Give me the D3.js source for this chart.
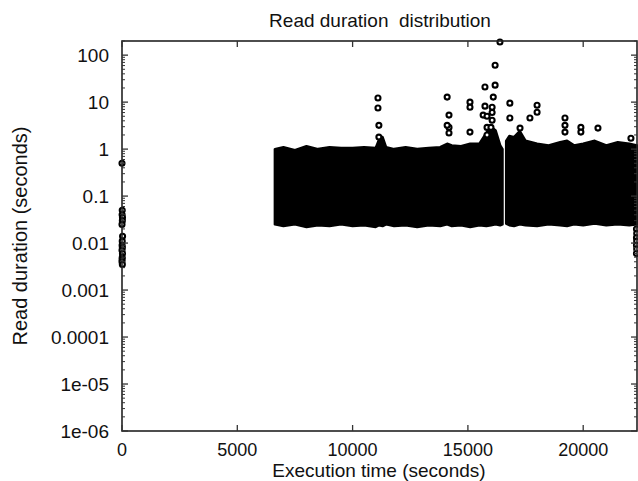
<!DOCTYPE html>
<html><head><meta charset="utf-8">
<script src="https://cdn.jsdelivr.net/npm/d3@7"></script>
<style>
html,body{margin:0;padding:0;background:#fff;}
svg text{font-family:"Liberation Sans",Arial,Helvetica,sans-serif;fill:#111;}
</style></head>
<body><svg id="c" width="638" height="481"></svg>
<script>
// ---- data ----
const title = "Read duration  distribution";
const xLabel = "Execution time (seconds)";
const yLabel = "Read duration (seconds)";
const xTicks = [0, 5000, 10000, 15000, 20000];
const yTicks = [1e-6, 1e-5, 1e-4, 1e-3, 0.01, 0.1, 1, 10, 100];
const yTickLabels = ["1e-06", "1e-05", "0.0001", "0.001", "0.01", "0.1", "1", "10", "100"];
const xDomain = [0, 22333];
const yDomain = [1e-6, 200];

// dense band of reads (envelope of the point cloud); null = gap
const bandX      = [6630, 7000, 7500, 8000, 8500, 9000, 9500, 10000, 10500, 11000, 11150, 11300, 11450, 11800, 12300, 12800, 13300, 13800, 14100, 14300, 14700, 15100, 15500, 15800, 16000, 16200, 16400, 16500, 16580, 16660, 16800, 17000, 17250, 17500, 18000, 18500, 19000, 19300, 19600, 20000, 20500, 21000, 21500, 22000, 22333];
const bandTop    = [1.0, 1.1, 0.95, 1.15, 1.0, 1.1, 1.05, 1.05, 1.1, 1.05, 1.6, 1.8, 1.1, 1.0, 1.1, 1.0, 1.05, 1.1, 1.3, 1.2, 1.15, 1.3, 1.3, 2.2, 3.0, 2.5, 1.2, 1.0, null, 1.5, 1.9, 1.8, 2.4, 1.5, 1.3, 1.2, 1.4, 1.5, 1.2, 1.3, 1.5, 1.2, 1.4, 1.3, 1.2];
const bandBottom = [0.025, 0.023, 0.025, 0.022, 0.024, 0.023, 0.025, 0.023, 0.024, 0.022, 0.024, 0.023, 0.025, 0.023, 0.024, 0.022, 0.024, 0.023, 0.025, 0.023, 0.024, 0.022, 0.024, 0.023, 0.024, 0.025, 0.024, 0.025, null, 0.026, 0.024, 0.023, 0.025, 0.024, 0.023, 0.025, 0.024, 0.023, 0.025, 0.024, 0.026, 0.024, 0.025, 0.024, 0.025];

// individual reads outside the band
const outX = [11100, 11100, 11140, 11140, 14100, 14180, 14180, 14180, 14100, 15090, 15090, 15090, 15740, 15740, 15660, 15830, 15830, 15830, 16180, 16180, 16100, 16050, 16050, 16050, 16000, 16390, 16820, 16820, 17260, 17690, 18000, 18000, 19210, 19210, 19210, 19900, 19900, 20640, 22070,
  0, 10, 5, 20, 15, 0, 25, 10, 5, 15, 0, 20, 10, 5, 0, 15,
  22310, 22320, 22310, 22320, 22310, 22320, 22310];
const outY = [12.2, 7.5, 3.2, 1.8, 12.8, 5.3, 2.9, 2.2, 3.2, 10, 7.8, 2.3, 21, 8.2, 5.3, 5.0, 2.9, 2.0, 61, 23, 12.8, 7.8, 6.0, 4.1, 2.9, 190, 9.5, 4.6, 2.8, 4.6, 8.6, 6.1, 4.6, 3.2, 2.3, 2.9, 2.3, 2.8, 1.7,
  0.5, 0.05, 0.04, 0.035, 0.03, 0.025, 0.014, 0.011, 0.009, 0.008, 0.007, 0.006, 0.005, 0.0045, 0.004, 0.0035,
  0.02, 0.016, 0.013, 0.011, 0.009, 0.0075, 0.006];

// ---- layout ----
const svg = d3.select("#c");
const L = 122, R = 637, T = 41, B = 431;
const x = d3.scaleLinear().domain(xDomain).range([L, R]);
const y = d3.scaleLog().domain(yDomain).range([B, T]);

const plot = svg.append("g");
svg.append("defs").append("clipPath").attr("id", "clip")
  .append("rect").attr("x", L - 4).attr("y", T - 4).attr("width", R - L + 8).attr("height", B - T + 8);
plot.attr("clip-path", "url(#clip)");

// band
const bandData = bandX.map((v, i) => ({x: v, t: bandTop[i], b: bandBottom[i]}));
const area = d3.area()
  .defined(d => d.t !== null)
  .x(d => x(d.x)).y0(d => y(d.b)).y1(d => y(d.t))
  .curve(d3.curveLinear);
plot.append("path").datum(bandData).attr("d", area)
  .attr("fill", "#000").attr("stroke", "#000").attr("stroke-width", 2.5).attr("stroke-linejoin", "round");

// outlier points
plot.selectAll("circle.o").data(outX.map((v, i) => [v, outY[i]])).enter()
  .append("circle").attr("class", "o")
  .attr("cx", d => x(d[0])).attr("cy", d => y(d[1])).attr("r", 2.5)
  .attr("fill", "#fff").attr("stroke", "#000").attr("stroke-width", 2.1);

// frame
const frameColor = "#222";
svg.append("rect").attr("x", L).attr("y", T).attr("width", R - L).attr("height", B - T)
  .attr("fill", "none").attr("stroke", frameColor).attr("stroke-width", 1.6);

// y ticks (major + minor), mirrored on right
const minor = [];
yTicks.forEach(t => { for (let k = 2; k <= 9; k++) { const v = t * k; if (v <= yDomain[1]) minor.push(v); } });
const gt = svg.append("g").attr("stroke", "#333");
yTicks.forEach(t => {
  gt.append("line").attr("x1", L).attr("x2", L + 6).attr("y1", y(t)).attr("y2", y(t)).attr("stroke-width", 1.3);
  gt.append("line").attr("x1", R).attr("x2", R - 6).attr("y1", y(t)).attr("y2", y(t)).attr("stroke-width", 1.3);
});
minor.forEach(t => {
  gt.append("line").attr("x1", L).attr("x2", L + 3).attr("y1", y(t)).attr("y2", y(t)).attr("stroke-width", 1);
  gt.append("line").attr("x1", R).attr("x2", R - 3).attr("y1", y(t)).attr("y2", y(t)).attr("stroke-width", 1);
});
xTicks.forEach(t => {
  gt.append("line").attr("x1", x(t)).attr("x2", x(t)).attr("y1", B).attr("y2", B - 6).attr("stroke-width", 1.3);
  gt.append("line").attr("x1", x(t)).attr("x2", x(t)).attr("y1", T).attr("y2", T + 6).attr("stroke-width", 1.3);
});

// tick labels
svg.append("g").selectAll("text").data(yTicks).enter().append("text")
  .attr("x", L - 13).attr("y", d => y(d) + 7).attr("text-anchor", "end")
  .attr("font-size", 19).text((d, i) => yTickLabels[i]);
svg.append("g").selectAll("text").data(xTicks).enter().append("text")
  .attr("x", d => x(d)).attr("y", 456).attr("text-anchor", "middle")
  .attr("font-size", 18).text(d => String(d));

// titles
svg.append("text").attr("x", 380).attr("y", 27).attr("text-anchor", "middle").attr("font-size", 19)
  .style("white-space", "pre").attr("xml:space", "preserve").text(title);
svg.append("text").attr("x", 379).attr("y", 477).attr("text-anchor", "middle").attr("font-size", 19).text(xLabel);
svg.append("text").attr("transform", "translate(27,236) rotate(-90)").attr("text-anchor", "middle")
  .attr("font-size", 20).text(yLabel);
</script></body></html>
